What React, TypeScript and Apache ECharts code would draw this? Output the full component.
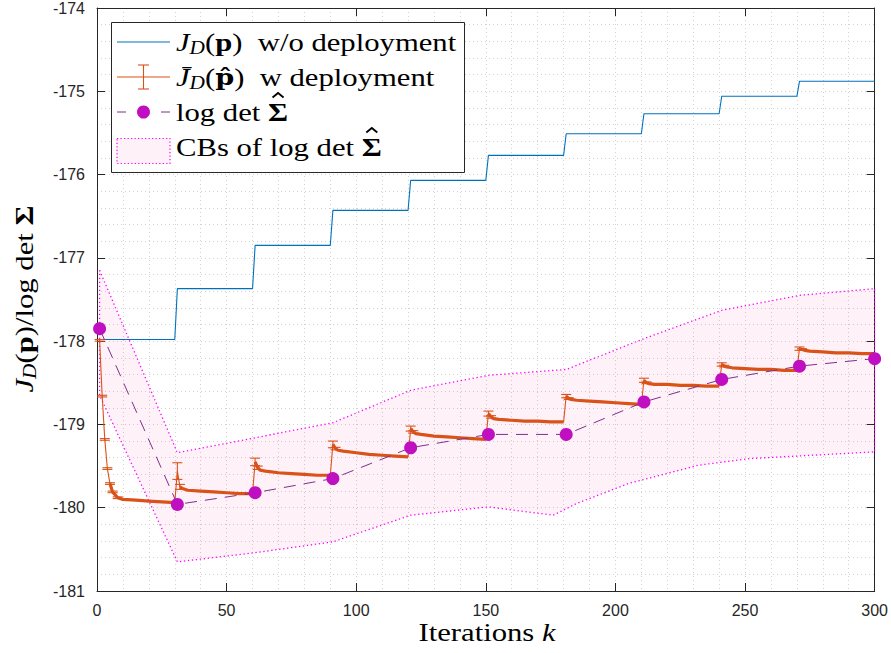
import React, { useEffect, useRef } from "react";
import * as echarts from "echarts";

// ---------- data ----------
// J_D(p) without deployment: one level per 30-iteration block
const blockStarts = [1, 31, 61, 91, 121, 151, 181, 211, 241, 271];
const blockEnds = [30, 60, 90, 120, 150, 180, 210, 240, 270, 300];
const noDeployLevels = [-177.98, -177.37, -176.85, -176.43, -176.07, -175.77, -175.51, -175.27, -175.06, -174.88];

// \bar J_D(\hat p) with deployment (mean and error half-width)
const deployX = [
  1, 2, 3, 4, 5, 6, 8, 10, 15, 20, 25, 30,
  31, 32, 33, 35, 40, 45, 50, 55, 60,
  61, 62, 63, 65, 70, 75, 80, 85, 90,
  91, 92, 93, 95, 100, 105, 110, 115, 120,
  121, 122, 123, 125, 130, 135, 140, 145, 150,
  151, 152, 153, 155, 160, 165, 170, 175, 180,
  181, 182, 183, 185, 190, 195, 200, 205, 210,
  211, 212, 213, 215, 220, 225, 230, 235, 240,
  241, 242, 243, 245, 250, 255, 260, 265, 270,
  271, 272, 273, 275, 280, 285, 290, 295, 300,
];
const deployY = [
  -177.99, -178.66, -179.18, -179.53, -179.71, -179.81, -179.88, -179.9, -179.91, -179.92, -179.93, -179.94,
  -179.56, -179.75, -179.77, -179.79, -179.8, -179.81, -179.82, -179.83, -179.83,
  -179.45, -179.52, -179.55, -179.56, -179.58, -179.59, -179.6, -179.61, -179.61,
  -179.24, -179.29, -179.31, -179.32, -179.34, -179.36, -179.37, -179.38, -179.39,
  -179.05, -179.09, -179.11, -179.12, -179.14, -179.15, -179.16, -179.17, -179.18,
  -178.87, -178.91, -178.93, -178.94, -178.95, -178.96, -178.96, -178.97, -178.97,
  -178.66, -178.69, -178.7, -178.71, -178.72, -178.73, -178.74, -178.75, -178.76,
  -178.47, -178.5, -178.51, -178.52, -178.52, -178.53, -178.53, -178.54, -178.54,
  -178.28, -178.3, -178.31, -178.32, -178.33, -178.34, -178.34, -178.35, -178.35,
  -178.09, -178.1, -178.11, -178.12, -178.13, -178.14, -178.14, -178.15, -178.15,
];
const deployErr = [
  0.01, 0.01, 0.01, 0.01, 0.01, 0.01, 0.01, 0, 0, 0, 0, 0,
  0.1, 0.03, 0, 0, 0, 0, 0, 0, 0,
  0.045, 0.02, 0, 0, 0, 0, 0, 0, 0,
  0.04, 0.015, 0, 0, 0, 0, 0, 0, 0,
  0.03, 0.015, 0, 0, 0, 0, 0, 0, 0,
  0.03, 0.015, 0, 0, 0, 0, 0, 0, 0,
  0.02, 0.01, 0, 0, 0, 0, 0, 0, 0,
  0.025, 0.01, 0, 0, 0, 0, 0, 0, 0,
  0.02, 0.01, 0, 0, 0, 0, 0, 0, 0,
  0.02, 0.01, 0, 0, 0, 0, 0, 0, 0,
];

// log det Sigma-hat
const logdetX = [1, 31, 61, 91, 121, 151, 181, 211, 241, 271, 300];
const logdetY = [-177.85, -179.96, -179.82, -179.65, -179.28, -179.12, -179.12, -178.73, -178.46, -178.3, -178.21];

// confidence bounds of log det Sigma-hat
const cbUpperX = [1, 31, 61, 91, 121, 151, 181, 211, 241, 271, 300];
const cbUpperY = [-177.15, -179.34, -179.16, -178.98, -178.59, -178.41, -178.34, -177.97, -177.63, -177.45, -177.37];
const cbLowerX = [1, 31, 61, 91, 121, 151, 176, 185, 205, 232, 252, 300];
const cbLowerY = [-178.65, -180.65, -180.54, -180.41, -180.09, -179.99, -180.09, -179.95, -179.71, -179.49, -179.41, -179.33];

// axes
const xMin = 0, xMax = 300, xStep = 50;
const yMin = -181, yMax = -174, yStep = 1;

// ---------- styles ----------
const BLUE = "#0072BD";
const ORANGE = "#D95319";
const PURPLE = "#7E2F8E";
const MARKER = "#C00FC0";
const MAGENTA = "#FF00FF";
const AXIS = "#262626";
const GRID = "#d2d2d2";
const BAND = "rgba(235,0,130,0.055)";
const SERIF = "'Liberation Serif', 'Times New Roman', serif";
const SERIF_HAT = "'DejaVu Serif', 'Liberation Serif', serif";
const SANS = "'Liberation Sans', Arial, Helvetica, sans-serif";
const SX = 1.18;
const FS = 26;

const richBase = (fs: number) => ({
  rm: { fontFamily: SERIF, fontSize: fs, fill: "#000", color: "#000", lineHeight: fs + 8, verticalAlign: "middle" },
  it: { fontFamily: SERIF, fontSize: fs, fontStyle: "italic", fill: "#000", color: "#000", lineHeight: fs + 8, verticalAlign: "middle" },
  bf: { fontFamily: SERIF, fontSize: fs, fontWeight: "bold", fill: "#000", color: "#000", lineHeight: fs + 8, verticalAlign: "middle" },
  bfh: { fontFamily: SERIF_HAT, fontSize: fs - 3, fontWeight: "bold", fill: "#000", color: "#000", lineHeight: fs + 8, verticalAlign: "middle" },
  sub: { fontFamily: SERIF, fontSize: Math.round(fs * 0.7), fontStyle: "italic", fill: "#000", color: "#000", lineHeight: fs + 8, verticalAlign: "bottom", padding: [0, 0, 2, 0] },
});

function txt(text: string, x: number, y: number, fs: number, extra: any = {}) {
  return {
    type: "text",
    x,
    y,
    scaleX: SX,
    z: 100,
    ...extra,
    style: {
      text,
      rich: richBase(fs),
      fontFamily: SERIF,
      fontSize: fs,
      fill: "#000",
      align: extra.align || "left",
      textAlign: extra.align || "left",
      verticalAlign: "middle",
      textVerticalAlign: "middle",
    },
  };
}

function measure(s: string, font: string) {
  const c = document.createElement("canvas").getContext("2d");
  if (!c) return s.length * 10;
  c.font = font;
  return c.measureText(s).width;
}

export default function App() {
  const ref = useRef<HTMLDivElement>(null);
  useEffect(() => {
    if (!ref.current) return;
    const chart = echarts.init(ref.current, undefined, { renderer: "svg" });

    const noDeployData: number[][] = [];
    blockStarts.forEach((s, i) => {
      noDeployData.push([s, noDeployLevels[i]]);
      noDeployData.push([blockEnds[i], noDeployLevels[i]]);
    });

    const deployData = deployX.map((x, i) => [x, deployY[i]]);
    const seg = (x: number) => Math.floor((x - 1) / 30);
    const isThick = (a: number, b: number) =>
      seg(deployX[a]) === seg(deployX[b]) && Math.abs(deployY[a] - deployY[b]) < 0.15;
    const thickData: any[] = [];
    for (let i = 0; i < deployX.length; i++) {
      const lp = i > 0 && isThick(i - 1, i);
      const ln = i < deployX.length - 1 && isThick(i, i + 1);
      if (!lp) thickData.push(null);
      if (lp || ln) thickData.push([deployX[i], deployY[i]]);
    }
    const errData = deployX.map((x, i) => [x, deployY[i], deployErr[i]]);
    const logdetData = logdetX.map((x, i) => [x, logdetY[i]]);

    const gridLine = { show: true, lineStyle: { color: GRID, type: [1, 3], width: 1 } };

    const legendX0 = 117, legendX1 = 170, legendTextX = 176;
    const rows = [42, 77, 112, 147];

    // hat accents over the bold Sigma in the legend
    const rmFont = `${FS}px 'Liberation Serif'`;
    const bfFont = `bold ${FS}px 'Liberation Serif'`;
    const sigW = measure("\u03A3", bfFont);
    const hat = (prefix: string, row: number) => {
      const cx = legendTextX + SX * (measure(prefix, rmFont) + sigW / 2);
      const top = row - 19;
      return {
        type: "polyline",
        z: 101,
        shape: { points: [[cx - 5.5, top + 4.5], [cx, top], [cx + 5.5, top + 4.5]] },
        style: { stroke: "#000", lineWidth: 1.8, fill: null },
      };
    };

    const option: any = {
      animation: false,
      backgroundColor: "#fff",
      grid: { left: 97, right: 14, top: 7, bottom: 62, containLabel: false },
      xAxis: [
        {
          type: "value", min: xMin, max: xMax, interval: xStep, position: "bottom",
          axisLine: { show: true, onZero: false, lineStyle: { color: AXIS, width: 1 } },
          axisTick: { show: true, inside: true, length: 8, lineStyle: { color: AXIS } },
          axisLabel: { color: AXIS, fontFamily: SANS, fontSize: 16, margin: 11 },
          splitLine: gridLine,
          minorTick: { show: false, splitNumber: 5 },
          minorSplitLine: gridLine,
        },
        {
          type: "value", min: xMin, max: xMax, interval: xStep, position: "top",
          axisLine: { show: true, onZero: false, lineStyle: { color: AXIS, width: 1 } },
          axisTick: { show: true, inside: true, length: 8, lineStyle: { color: AXIS } },
          axisLabel: { show: false },
          splitLine: { show: false },
        },
      ],
      yAxis: [
        {
          type: "value", min: yMin, max: yMax, interval: yStep, position: "left",
          axisLine: { show: true, onZero: false, lineStyle: { color: AXIS, width: 1 } },
          axisTick: { show: true, inside: true, length: 8, lineStyle: { color: AXIS } },
          axisLabel: { color: AXIS, fontFamily: SANS, fontSize: 16, margin: 12 },
          splitLine: gridLine,
          minorTick: { show: false, splitNumber: 5 },
          minorSplitLine: gridLine,
        },
        {
          type: "value", min: yMin, max: yMax, interval: yStep, position: "right",
          axisLine: { show: true, onZero: false, lineStyle: { color: AXIS, width: 1 } },
          axisTick: { show: true, inside: true, length: 8, lineStyle: { color: AXIS } },
          axisLabel: { show: false },
          splitLine: { show: false },
        },
      ],
      series: [
        {
          name: "CBs",
          type: "custom",
          z: 1,
          data: [[cbUpperX[0], cbUpperY[0]]],
          renderItem: (params: any, api: any) => {
            const pts: number[][] = [];
            cbUpperX.forEach((x, i) => pts.push(api.coord([x, cbUpperY[i]])));
            for (let i = cbLowerX.length - 1; i >= 0; i--) pts.push(api.coord([cbLowerX[i], cbLowerY[i]]));
            return {
              type: "polygon",
              shape: { points: pts },
              style: { fill: BAND, stroke: MAGENTA, lineWidth: 1.3, lineDash: [1.3, 2.7] },
            };
          },
        },
        {
          name: "noDeploy",
          type: "line",
          z: 2,
          data: noDeployData,
          showSymbol: false,
          lineStyle: { color: BLUE, width: 1.1 },
        },
        {
          name: "deployThin",
          type: "line",
          z: 3,
          data: deployData,
          showSymbol: false,
          lineStyle: { color: ORANGE, width: 1.1 },
        },
        {
          name: "deployThick",
          type: "line",
          z: 3,
          data: thickData,
          connectNulls: false,
          showSymbol: false,
          lineStyle: { color: ORANGE, width: 3.2 },
        },
        {
          name: "errorbars",
          type: "custom",
          z: 4,
          data: errData,
          renderItem: (params: any, api: any) => {
            const x = api.value(0), y = api.value(1), e = api.value(2);
            if (!(e > 0)) return { type: "group", children: [] };
            const top = api.coord([x, y + e]);
            const bot = api.coord([x, y - e]);
            const w = 5;
            const st = { stroke: ORANGE, lineWidth: 1.1 };
            return {
              type: "group",
              children: [
                { type: "line", shape: { x1: top[0], y1: top[1], x2: bot[0], y2: bot[1] }, style: st },
                { type: "line", shape: { x1: top[0] - w, y1: top[1], x2: top[0] + w, y2: top[1] }, style: st },
                { type: "line", shape: { x1: bot[0] - w, y1: bot[1], x2: bot[0] + w, y2: bot[1] }, style: st },
              ],
            };
          },
        },
        {
          name: "logdet",
          type: "line",
          z: 5,
          data: logdetData,
          symbol: "circle",
          symbolSize: 13,
          showSymbol: true,
          itemStyle: { color: MARKER },
          lineStyle: { color: PURPLE, width: 1, type: [12, 8] },
        },
      ],
      graphic: [
        // legend box
        { type: "rect", z: 99, shape: { x: 111.5, y: 22.5, width: 353, height: 150 }, style: { fill: "#fff", stroke: AXIS, lineWidth: 1 } },
        // row 1
        { type: "line", z: 100, shape: { x1: legendX0, y1: rows[0], x2: legendX1, y2: rows[0] }, style: { stroke: BLUE, lineWidth: 1.1 } },
        txt("{it|J}{sub|D}{rm|(}{bf|p}{rm|)  w/o deployment}", legendTextX, rows[0], FS),
        // row 2
        { type: "line", z: 100, shape: { x1: legendX0, y1: rows[1], x2: legendX1, y2: rows[1] }, style: { stroke: ORANGE, lineWidth: 1.1 } },
        { type: "line", z: 100, shape: { x1: 143.5, y1: rows[1] - 12, x2: 143.5, y2: rows[1] + 12 }, style: { stroke: ORANGE, lineWidth: 1.1 } },
        { type: "line", z: 100, shape: { x1: 138, y1: rows[1] - 12, x2: 149, y2: rows[1] - 12 }, style: { stroke: ORANGE, lineWidth: 1.1 } },
        { type: "line", z: 100, shape: { x1: 138, y1: rows[1] + 12, x2: 149, y2: rows[1] + 12 }, style: { stroke: ORANGE, lineWidth: 1.1 } },
        txt("{it|J\u0304}{sub|D}{rm|(}{bfh|p\u0302}{rm|)  w deployment}", legendTextX, rows[1], FS),
        // row 3
        { type: "line", z: 100, shape: { x1: legendX0, y1: rows[2], x2: 126, y2: rows[2] }, style: { stroke: PURPLE, lineWidth: 1 } },
        { type: "line", z: 100, shape: { x1: 161, y1: rows[2], x2: legendX1, y2: rows[2] }, style: { stroke: PURPLE, lineWidth: 1 } },
        { type: "circle", z: 100, shape: { cx: 143.5, cy: rows[2], r: 6.5 }, style: { fill: MARKER } },
        txt("{rm|log det }{bf|\u03A3}", legendTextX, rows[2], FS),
        hat("log det ", rows[2]),
        // row 4
        { type: "rect", z: 100, shape: { x: legendX0, y: 138.5, width: 53, height: 25 }, style: { fill: BAND, stroke: MAGENTA, lineWidth: 1.2, lineDash: [1.3, 2.2] } },
        txt("{rm|CBs of log det }{bf|\u03A3}", legendTextX, rows[3], FS),
        hat("CBs of log det ", rows[3]),
        // axis titles
        txt("{rm|Iterations }{it|k}", 487, 632, FS, { align: "center" }),
        txt("{it|J}{sub|D}{rm|(}{bf|p}{rm|)/log det }{bf|\u03A3}", 24, 299, FS, { align: "center", rotation: Math.PI / 2 }),
      ],
    };
    chart.setOption(option);
    return () => chart.dispose();
  }, []);
  return <div ref={ref} style={{ position: "absolute", left: 0, top: 0, width: 891, height: 653 }} />;
}
